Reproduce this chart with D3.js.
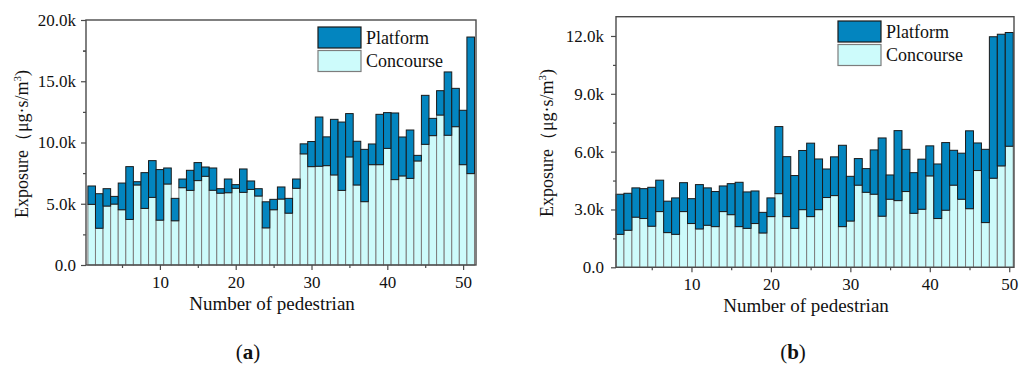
<!DOCTYPE html>
<meta charset="utf-8" />
<script src="https://d3js.org/d3.v7.min.js"></script>
<body style="margin:0;background:#fff">
<svg id="chart" width="1029" height="367" style="display:block"></svg>
<script>
/* DATA (values in k µg·s/m³) ---------------------------------------------- */
const seriesNames=["Platform","Concourse"];
const concourseA=[4.95,3.00,4.81,4.97,4.51,3.72,6.53,4.62,5.52,3.66,6.61,3.61,6.31,6.09,6.89,7.24,6.10,5.86,5.90,6.26,
  5.93,6.17,5.63,3.03,4.51,5.38,4.23,6.26,9.07,8.03,8.06,8.11,7.35,6.09,8.82,6.53,5.17,8.19,8.19,9.52,
  6.97,7.27,7.07,8.49,9.85,10.56,12.24,10.59,11.29,8.19,7.46];
const platformA=[1.50,2.82,1.42,0.63,2.18,4.31,0.27,2.92,3.00,4.13,1.31,1.83,0.71,1.64,1.47,0.76,1.82,0.37,1.12,0.30,
  1.91,0.69,0.60,2.13,0.85,0.99,1.21,0.76,0.82,2.05,4.02,2.35,4.54,5.58,3.54,3.57,4.27,1.69,4.11,2.92,
  5.44,3.18,3.95,0.46,4.00,1.41,1.99,5.17,3.13,4.44,11.15];
const concourseB=[1.71,1.92,2.60,2.53,2.13,2.89,1.80,1.71,2.89,2.27,1.99,2.18,2.11,2.89,2.73,2.11,2.02,2.27,1.78,2.63,
  3.82,2.63,2.02,2.99,2.63,2.99,3.62,3.72,2.11,2.40,4.26,3.89,3.79,2.65,3.53,3.46,3.93,2.80,3.01,4.74,
  2.53,2.96,4.26,3.53,3.04,5.02,2.32,4.62,5.26,6.28];
const platformB=[2.08,1.92,1.52,1.55,2.02,1.63,1.63,1.89,1.50,1.29,2.30,1.94,1.82,1.33,1.61,2.30,1.89,1.69,1.07,0.97,
  3.48,3.11,2.74,3.07,3.81,2.63,1.48,2.01,4.22,2.32,1.38,1.23,2.30,4.06,1.26,3.63,2.19,2.11,2.60,1.56,
  2.83,3.51,1.81,2.39,4.04,1.43,3.80,7.34,6.83,5.90];
const xTicks=[10,20,30,40,50], xMinor=[5,15,25,35,45];
const yTicksA=[0,5,10,15,20], yTicksB=[0,3,6,9,12];

/* CONFIG ------------------------------------------------------------------ */
const font='"Liberation Serif","Times New Roman",serif';
const colour={Platform:"#0385bf",Concourse:"#cdfbfb"};
const edge={Platform:"#1a1a1a",Concourse:"#7d7d7d"};
const fmt=d=>d===0?"0.0":d.toFixed(1)+"k";

const panels=[
  {conc:concourseA,plat:platformA,x0:86,x1:476,y0:20,y1:265,xDom:[0.25,51.7],yDom:[0,20],
   yTicks:yTicksA,yStep:2.5,ytX:28,ytY:144,xtX:272,xtY:310,legX:318,legY:27,capX:248,cap:"a"},
  {conc:concourseB,plat:platformB,x0:616,x1:1014,y0:16.7,y1:267.3,xDom:[0.5,50.6],yDom:[0,13],
   yTicks:yTicksB,yStep:1.5,ytX:553,ytY:143,xtX:806,xtY:312,legX:838,legY:21,capX:793,cap:"b"}
];

const svg=d3.select("#chart").style("font-family",font);

panels.forEach(p=>{
  const x=d3.scaleLinear().domain(p.xDom).range([p.x0,p.x1]);
  const y=d3.scaleLinear().domain(p.yDom).range([p.y1,p.y0]);
  const g=svg.append("g");

  /* stacked bars ------------------------------------------------------ */
  const rows=p.conc.map((c,i)=>({n:i+1,Concourse:c,Platform:p.plat[i]}));
  const stack=d3.stack().keys(["Concourse","Platform"])(rows);
  g.selectAll("g.layer").data(stack).join("g").attr("class","layer")
    .attr("fill",d=>colour[d.key]).attr("stroke",d=>edge[d.key]).attr("stroke-width",1)
    .selectAll("rect").data(d=>d).join("rect")
      .attr("x",d=>x(d.data.n-0.5)).attr("width",d=>x(d.data.n+0.5)-x(d.data.n-0.5))
      .attr("y",d=>y(d[1])).attr("height",d=>y(d[0])-y(d[1]));

  /* frame + axes ------------------------------------------------------ */
  g.append("rect").attr("x",p.x0).attr("y",p.y0).attr("width",p.x1-p.x0).attr("height",p.y1-p.y0)
    .attr("fill","none").attr("stroke","#4a4a4a").attr("stroke-width",1.4);

  const style=a=>{a.select(".domain").remove();
    a.selectAll("line").attr("stroke","#4a4a4a").attr("stroke-width",1.2);
    a.selectAll("text").attr("font-size",17).attr("font-family",font).attr("fill","#111");};

  g.append("g").attr("transform",`translate(0,${p.y1})`)
    .call(d3.axisBottom(x).tickValues(xTicks).tickSize(5).tickPadding(6)).call(style);
  g.append("g").attr("transform",`translate(0,${p.y1})`)
    .call(d3.axisBottom(x).tickValues(xMinor).tickSize(3).tickFormat("")).call(style);
  g.append("g").attr("transform",`translate(${p.x0},0)`)
    .call(d3.axisLeft(y).tickValues(p.yTicks).tickSize(5).tickPadding(p.cap==="a"?5:7).tickFormat(fmt)).call(style);
  g.append("g").attr("transform",`translate(${p.x0},0)`)
    .call(d3.axisLeft(y).tickValues(p.yTicks.slice(0,-1).map(v=>v+p.yStep).concat(p.cap==="a"?[17.5]:[]))
      .tickSize(3).tickFormat("")).call(style);

  /* titles ------------------------------------------------------------ */
  const yt=g.append("text").attr("transform",`translate(${p.ytX},${p.ytY}) rotate(-90)`)
    .attr("text-anchor","middle").attr("font-size",18).attr("fill","#111");
  yt.append("tspan").text("Exposure（μg·s/m");
  yt.append("tspan").attr("font-size",11).attr("dy",-7).text("3");
  yt.append("tspan").attr("dy",7).text(")");

  g.append("text").attr("x",p.xtX).attr("y",p.xtY).attr("text-anchor","middle")
    .attr("font-size",19).attr("fill","#111").text("Number of pedestrian");

  const cap=g.append("text").attr("x",p.capX).attr("y",359).attr("text-anchor","middle")
    .attr("font-size",21).attr("fill","#111");
  cap.append("tspan").text("(");
  cap.append("tspan").attr("font-weight","bold").text(p.cap);
  cap.append("tspan").text(")");

  /* legend ------------------------------------------------------------ */
  const leg=g.selectAll("g.leg").data(seriesNames).join("g").attr("class","leg")
    .attr("transform",(d,i)=>`translate(${p.legX},${p.legY+i*23.5})`);
  leg.append("rect").attr("width",43).attr("height",21)
    .attr("fill",d=>colour[d]).attr("stroke",d=>edge[d]).attr("stroke-width",1.2);
  leg.append("text").attr("x",48).attr("y",16.5).attr("font-size",18).attr("fill","#111").text(d=>d);
});
</script>
</body>
